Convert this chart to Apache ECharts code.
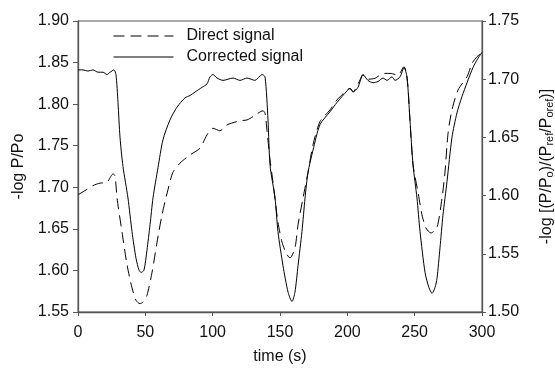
<!DOCTYPE html>
<html>
<head>
<meta charset="utf-8">
<script src="https://cdn.jsdelivr.net/npm/echarts@6/dist/echarts.min.js"></script>
<style>
  html, body { margin: 0; padding: 0; background: #fff; }
  #chart { width: 555px; height: 368px; }
</style>
</head>
<body>
<div id="chart"></div>
<script>
// time (s) and values
const directTime = [0, 5.2, 11.1, 16.3, 21.5, 26, 27.5, 29, 32.7, 36.4, 40.1, 43.1, 46, 48.3, 51.2, 55, 58.7, 62.4, 66.8, 70.5,
  75.7, 83.2, 90.6, 95.8, 100.2, 105.4, 110.6, 120.3, 125.5, 130, 137.4, 138.9, 140.3, 142.6, 144.8, 148.5, 151.5, 154.5, 157.4, 161.1,
  163.4, 167.1, 170.8, 174.5, 179.7, 187.1, 192.3, 199.8, 202, 204.2, 209.4, 211.6, 215.3, 220.5, 224.3, 228, 231.7, 237.6, 242.1, 243.6,
  245, 246.5, 248.8, 252.5, 255.4, 258.4, 262.1, 266.6, 270.3, 272.5, 274.8, 277.7, 282.2, 288.9, 292.6, 296.3, 300];
const directValue = [1.691, 1.696, 1.702, 1.705, 1.706, 1.716, 1.714, 1.687, 1.646, 1.607, 1.579, 1.564, 1.560, 1.562, 1.570, 1.598, 1.634, 1.667, 1.697, 1.718,
  1.729, 1.739, 1.747, 1.763, 1.771, 1.768, 1.775, 1.780, 1.781, 1.785, 1.792, 1.789, 1.769, 1.733, 1.706, 1.658, 1.634, 1.621, 1.615, 1.627,
  1.655, 1.687, 1.718, 1.751, 1.779, 1.793, 1.805, 1.817, 1.819, 1.815, 1.829, 1.835, 1.830, 1.831, 1.835, 1.837, 1.837, 1.835, 1.845, 1.839,
  1.821, 1.781, 1.727, 1.694, 1.667, 1.651, 1.645, 1.652, 1.687, 1.718, 1.765, 1.793, 1.817, 1.833, 1.849, 1.857, 1.862];

const correctedTime = [0, 3.7, 7.4, 11.1, 14.9, 18.6, 21.5, 23.8, 26.7, 28.2, 29.7, 31.2, 33.4, 37.1, 40.1, 43.1, 45.3, 46.8, 49, 51.2,
  53.5, 55.7, 59.4, 63.1, 68.3, 73.5, 79.5, 83.2, 86.9, 92.1, 95.8, 98, 100.2, 103.2, 107.7, 115.1, 120.3, 125.5, 131.4, 136.6,
  138.9, 141.1, 142.6, 146.3, 148.5, 152.2, 156, 158.9, 161.1, 163.4, 166.3, 168.6, 170.8, 174.5, 179.7, 187.1, 192.3, 199.8, 202, 204.2,
  207.9, 211.6, 215.3, 219.1, 222.8, 226.5, 229.5, 233.2, 235.4, 239.1, 242.1, 244.3, 246.5, 248.8, 251.7, 254, 257.7, 260.6, 262.9, 265.1,
  266.6, 268.8, 271, 274, 277.7, 281.4, 285.1, 288.9, 293.3, 297, 300];
const correctedValue = [1.708, 1.708, 1.707, 1.708, 1.706, 1.706, 1.704, 1.706, 1.708, 1.704, 1.680, 1.650, 1.625, 1.598, 1.569, 1.546, 1.536, 1.534, 1.536, 1.553,
  1.575, 1.598, 1.624, 1.648, 1.665, 1.676, 1.684, 1.686, 1.689, 1.693, 1.696, 1.702, 1.704, 1.701, 1.699, 1.701, 1.699, 1.701, 1.699, 1.704,
  1.702, 1.665, 1.626, 1.598, 1.569, 1.540, 1.517, 1.509, 1.517, 1.540, 1.569, 1.598, 1.620, 1.639, 1.661, 1.672, 1.680, 1.690, 1.692, 1.689,
  1.693, 1.704, 1.699, 1.697, 1.698, 1.701, 1.699, 1.702, 1.699, 1.702, 1.710, 1.702, 1.665, 1.626, 1.598, 1.569, 1.534, 1.521, 1.516, 1.521,
  1.529, 1.555, 1.583, 1.612, 1.650, 1.671, 1.685, 1.697, 1.710, 1.718, 1.723];

const xTicks = { min: 0, max: 300, interval: 50 };
const leftTicks = { min: 1.55, max: 1.90, interval: 0.05 };
const rightTicks = { min: 1.50, max: 1.75, interval: 0.05 };

const toPairs = (xs, ys) => xs.map((x, i) => [x, ys[i]]);

const font = "'Liberation Sans', Arial, sans-serif";
const axisColor = "#555";
const textColor = "#111";
const fs = 16;

const chart = echarts.init(document.getElementById("chart"), null, { renderer: "canvas" });

chart.setOption({
  animation: false,
  backgroundColor: "#fff",
  textStyle: { fontFamily: font },
  grid: {
    left: 78,
    right: 73,
    top: 21,
    bottom: 56,
    outerBoundsMode: "none",
    containLabel: false,
    show: true,
    borderColor: axisColor,
    borderWidth: 1,
  },
  legend: {
    orient: "vertical",
    left: 108,
    top: 23,
    itemWidth: 60,
    itemHeight: 14,
    itemGap: 5,
    itemStyle: { opacity: 0 },
    lineStyle: { width: 1 },
    textStyle: { fontSize: fs, color: textColor, fontFamily: font, padding: [0, 0, 0, 8] },
    data: ["Direct signal", "Corrected signal"],
  },
  xAxis: {
    type: "value",
    min: xTicks.min,
    max: xTicks.max,
    interval: xTicks.interval,
    name: "time (s)",
    nameLocation: "middle",
    nameGap: 37,
    nameTextStyle: { fontSize: fs, color: textColor, fontFamily: font },
    axisLine: { lineStyle: { color: axisColor, width: 1.3 } },
    axisTick: { inside: false, length: 4, lineStyle: { color: axisColor } },
    axisLabel: { fontSize: fs, color: textColor, margin: 13, fontFamily: font },
    splitLine: { show: false },
  },
  yAxis: [
    {
      type: "value",
      position: "left",
      min: leftTicks.min,
      max: leftTicks.max,
      interval: leftTicks.interval,
      name: "-log P/Po",
      nameLocation: "middle",
      nameRotate: 90,
      nameGap: 51,
      nameTextStyle: { fontSize: fs, color: textColor, fontFamily: font },
      axisLine: { show: true, lineStyle: { color: axisColor, width: 1.3 } },
      axisTick: { show: true, length: 5, lineStyle: { color: axisColor } },
      axisLabel: { fontSize: fs, color: textColor, margin: 9, fontFamily: font, formatter: (v) => v.toFixed(2) },
      splitLine: { show: false },
    },
    {
      type: "value",
      position: "right",
      min: rightTicks.min,
      max: rightTicks.max,
      interval: rightTicks.interval,
      name: "-log [(P/P{s|o})/(P{s|ref}/P{s|oref})]",
      nameLocation: "middle",
      nameRotate: 90,
      nameGap: 56,
      nameTextStyle: {
        fontSize: fs,
        color: textColor,
        fontFamily: font,
        rich: {
          s: { fontSize: 11, color: textColor, fontFamily: font, verticalAlign: "bottom", padding: [6, 0, 0, 0] },
        },
      },
      axisLine: { show: true, lineStyle: { color: axisColor, width: 1.3 } },
      axisTick: { show: true, length: 4, lineStyle: { color: axisColor } },
      axisLabel: { fontSize: fs, color: textColor, margin: 6, fontFamily: font, formatter: (v) => v.toFixed(2) },
      splitLine: { show: false },
    },
  ],
  series: [
    {
      name: "Direct signal",
      type: "line",
      yAxisIndex: 0,
      data: toPairs(directTime, directValue),
      smooth: 0.25,
      symbol: "none",
      lineStyle: { color: "#000", width: 1, type: [11, 6] },
      itemStyle: { color: "#000" },
    },
    {
      name: "Corrected signal",
      type: "line",
      yAxisIndex: 1,
      data: toPairs(correctedTime, correctedValue),
      smooth: 0.25,
      symbol: "none",
      lineStyle: { color: "#000", width: 1 },
      itemStyle: { color: "#000" },
    },
  ],
});
</script>
</body>
</html>
